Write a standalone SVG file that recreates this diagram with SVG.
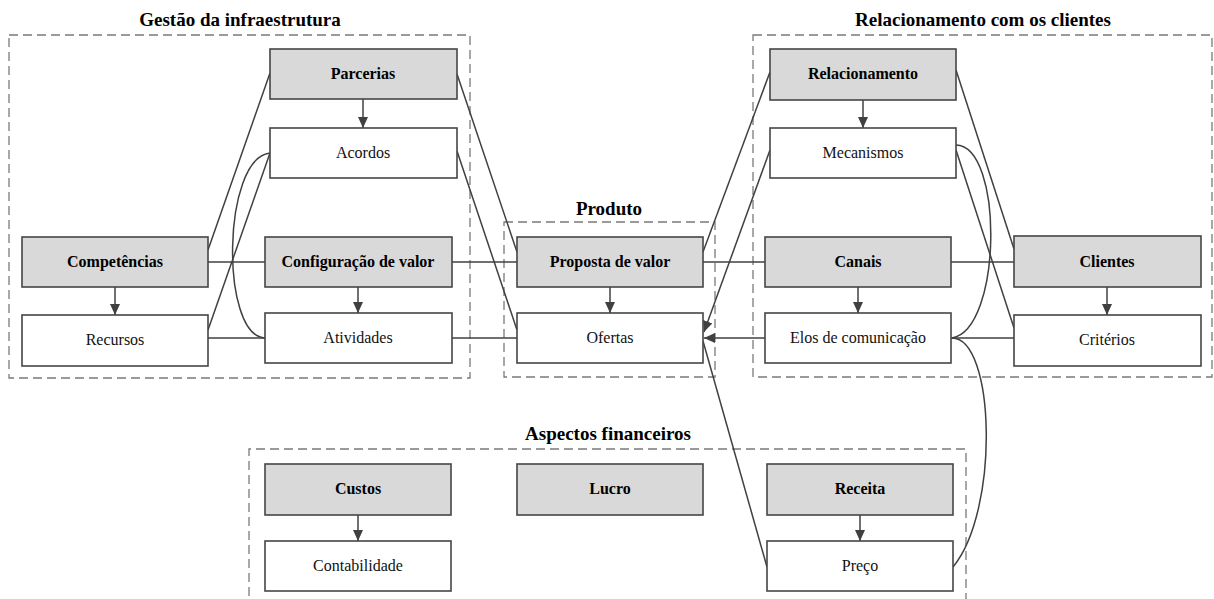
<svg xmlns="http://www.w3.org/2000/svg" width="1214" height="599" viewBox="0 0 1214 599">
  <style>
    .bg { fill: #ffffff; }
    .area { fill: none; stroke: #7a7a7a; stroke-width: 1.3; stroke-dasharray: 9 5; }
    .title { font-family: "Liberation Serif", "Times New Roman", serif; font-weight: bold; font-size: 19px; fill: #000; text-anchor: middle; }
    .main rect { fill: #d9d9d9; stroke: #454545; stroke-width: 1.6; }
    .sub rect { fill: #ffffff; stroke: #454545; stroke-width: 1.6; }
    .main text { font-family: "Liberation Serif", "Times New Roman", serif; font-weight: bold; font-size: 16px; fill: #000; text-anchor: middle; }
    .sub text { font-family: "Liberation Serif", "Times New Roman", serif; font-size: 16px; fill: #111; text-anchor: middle; }
    .link { fill: none; stroke: #404040; stroke-width: 1.5; }
    .arrow { fill: none; stroke: #404040; stroke-width: 1.5; marker-end: url(#head); }
  </style>
  <defs>
    <marker id="head" markerUnits="userSpaceOnUse" markerWidth="12" markerHeight="10" refX="11" refY="5" orient="auto">
      <path d="M0,0 L11,5 L0,10 Z" fill="#404040"/>
    </marker>
  </defs>

  <rect class="bg" x="0" y="0" width="1214" height="599"/>

  <!-- grouping areas -->
  <g id="areas">
    <rect class="area" x="9" y="35" width="461" height="343"/>
    <text class="title" x="240" y="26">Gestão da infraestrutura</text>
    <rect class="area" x="504" y="222" width="211" height="155"/>
    <text class="title" x="609" y="215">Produto</text>
    <rect class="area" x="753" y="35" width="459" height="342"/>
    <text class="title" x="983" y="26">Relacionamento com os clientes</text>
    <path class="area" d="M249,610 V449 H966 V610"/>
    <text class="title" x="608" y="440">Aspectos financeiros</text>
  </g>

  <!-- connectors -->
  <g id="connectors">
    <!-- infrastructure -->
    <line class="link" x1="208" y1="250" x2="270" y2="73"/>
    <line class="link" x1="208" y1="262" x2="265" y2="262"/>
    <line class="link" x1="208" y1="330" x2="270" y2="153"/>
    <line class="link" x1="208" y1="338" x2="265" y2="338"/>
    <path class="link" d="M270,153 C222,158 220,336 265,338"/>
    <!-- infrastructure to product -->
    <line class="link" x1="457" y1="74" x2="517" y2="252"/>
    <line class="link" x1="457" y1="151" x2="517" y2="330"/>
    <line class="link" x1="452" y1="262" x2="517" y2="262"/>
    <line class="link" x1="452" y1="338" x2="517" y2="338"/>
    <!-- product to customer relationship -->
    <line class="link" x1="703" y1="252" x2="770" y2="72"/>
    <line class="arrow" x1="770" y1="150" x2="704" y2="332"/>
    <line class="link" x1="703" y1="262" x2="765" y2="262"/>
    <line class="arrow" x1="765" y1="338" x2="704" y2="338"/>
    <line class="link" x1="703" y1="341" x2="767" y2="567"/>
    <!-- customer relationship -->
    <line class="link" x1="951" y1="262" x2="1014" y2="262"/>
    <line class="link" x1="951" y1="338" x2="1014" y2="338"/>
    <line class="link" x1="956" y1="70" x2="1014" y2="249"/>
    <line class="link" x1="956" y1="150" x2="1014" y2="328"/>
    <path class="link" d="M956,145 C1004,146 1002,330 952,338"/>
    <path class="link" d="M952,338 C995,338 1000,510 953,567"/>
    <!-- decompositions -->
    <line class="arrow" x1="363" y1="99" x2="363" y2="128"/>
    <line class="arrow" x1="115" y1="287" x2="115" y2="315"/>
    <line class="arrow" x1="358" y1="287" x2="358" y2="313"/>
    <line class="arrow" x1="610" y1="287" x2="610" y2="313"/>
    <line class="arrow" x1="863" y1="100" x2="863" y2="128"/>
    <line class="arrow" x1="858" y1="287" x2="858" y2="313"/>
    <line class="arrow" x1="1107" y1="287" x2="1107" y2="315"/>
    <line class="arrow" x1="358" y1="515" x2="358" y2="541"/>
    <line class="arrow" x1="860" y1="515" x2="860" y2="541"/>
  </g>

  <!-- nodes -->
  <g id="parcerias" class="main"><rect x="270" y="49" width="187" height="50"/><text x="363" y="79">Parcerias</text></g>
  <g id="acordos" class="sub"><rect x="270" y="128" width="187" height="50"/><text x="363" y="158">Acordos</text></g>
  <g id="competencias" class="main"><rect x="22" y="237" width="186" height="50"/><text x="115" y="267">Competências</text></g>
  <g id="recursos" class="sub"><rect x="22" y="315" width="186" height="51"/><text x="115" y="345">Recursos</text></g>
  <g id="configuracao" class="main"><rect x="265" y="237" width="187" height="50"/><text x="358" y="267">Configuração de valor</text></g>
  <g id="atividades" class="sub"><rect x="265" y="313" width="187" height="50"/><text x="358" y="343">Atividades</text></g>

  <g id="proposta" class="main"><rect x="517" y="237" width="186" height="50"/><text x="610" y="267">Proposta de valor</text></g>
  <g id="ofertas" class="sub"><rect x="517" y="313" width="186" height="50"/><text x="610" y="343">Ofertas</text></g>

  <g id="relacionamento" class="main"><rect x="770" y="49" width="186" height="51"/><text x="863" y="79">Relacionamento</text></g>
  <g id="mecanismos" class="sub"><rect x="770" y="128" width="186" height="50"/><text x="863" y="158">Mecanismos</text></g>
  <g id="canais" class="main"><rect x="765" y="237" width="186" height="50"/><text x="858" y="267">Canais</text></g>
  <g id="elos" class="sub"><rect x="765" y="313" width="186" height="50"/><text x="858" y="343">Elos de comunicação</text></g>
  <g id="clientes" class="main"><rect x="1014" y="236" width="187" height="51"/><text x="1107" y="267">Clientes</text></g>
  <g id="criterios" class="sub"><rect x="1014" y="315" width="187" height="51"/><text x="1107" y="345">Critérios</text></g>

  <g id="custos" class="main"><rect x="265" y="464" width="186" height="51"/><text x="358" y="494">Custos</text></g>
  <g id="contabilidade" class="sub"><rect x="265" y="541" width="186" height="50"/><text x="358" y="571">Contabilidade</text></g>
  <g id="lucro" class="main"><rect x="517" y="464" width="186" height="51"/><text x="610" y="494">Lucro</text></g>
  <g id="receita" class="main"><rect x="767" y="464" width="186" height="51"/><text x="860" y="494">Receita</text></g>
  <g id="preco" class="sub"><rect x="767" y="541" width="186" height="50"/><text x="860" y="571">Preço</text></g>
</svg>
